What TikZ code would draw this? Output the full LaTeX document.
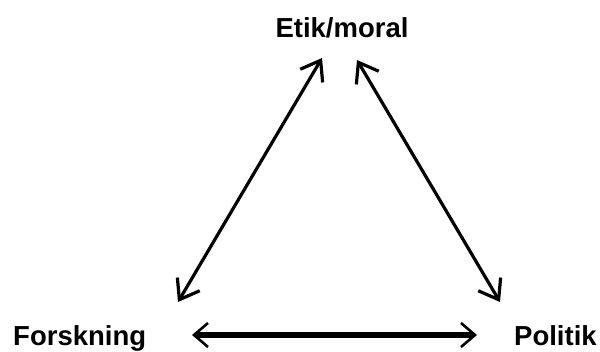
\documentclass[tikz,border=0pt]{standalone}
\usepackage{fontspec}
\setmainfont{Liberation Sans}
\usetikzlibrary{arrows.meta}
\begin{document}
\begin{tikzpicture}[x=1pt,y=1pt,
  lbl/.style={font=\bfseries\fontsize{27.5}{32}\selectfont, inner sep=0pt},
  diag/.style={line width=3.2pt, {Straight Barb[length=18pt,width=26pt,line width=3.2pt]}-{Straight Barb[length=18pt,width=26pt,line width=3.2pt]}},
  horiz/.style={line width=5.5pt, {Straight Barb[length=14pt,width=24pt,line width=2.6pt]}-{Straight Barb[length=14pt,width=24pt,line width=2.6pt]}}]
\useasboundingbox (0,0) rectangle (600,351);
\node[lbl, anchor=base] (etik) at (342,313) {Etik/moral};
\node[lbl, anchor=base west] (forsk) at (13,6) {Forskning};
\node[lbl, anchor=base west] (polit) at (514,6) {Politik};
\coordinate (a1) at (178,49);
\coordinate (a2) at (322,293);
\coordinate (b1) at (357,291);
\coordinate (b2) at (500,49);
\coordinate (c1) at (192,16);
\coordinate (c2) at (477,16);
\draw[diag] (a1) -- (a2);
\draw[diag] (b1) -- (b2);
\draw[horiz] (c1) -- (c2);
\end{tikzpicture}
\end{document}
